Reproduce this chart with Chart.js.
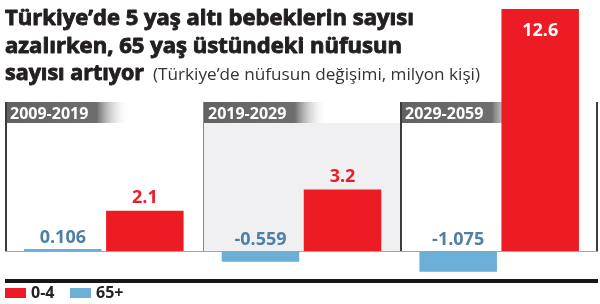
<!DOCTYPE html>
<html>
<head>
<meta charset="UTF-8">
<title>Türkiye nüfus değişimi</title>
<script src="https://cdn.jsdelivr.net/npm/chart.js"></script>
<style>
  body { margin: 0; background: #fff; }
</style>
</head>
<body>
<canvas id="chart" width="600" height="304"></canvas>
<script>
  // data (milyon kişi)
  const periods = ["2009-2019", "2019-2029", "2029-2059"];
  const seriesNames = ["65+", "0-4"];
  const elderly = [0.106, -0.559, -1.075];
  const babies = [2.1, 3.2, 12.6];

  const titleLines = ["Türkiye’de 5 yaş altı bebeklerin sayısı", "azalırken, 65 yaş üstündeki nüfusun", "sayısı artıyor"];
  const subtitle = "(Türkiye’de nüfusun değişimi, milyon kişi)";

  const RED = "#ed1c24", BLUE = "#6baed6", BLUE_TXT = "#4f7fa5";

  // draw text squeezed/stretched to a target width (optional stroke to make it heavier)
  function fitText(ctx, text, x, y, width, stroke) {
    const w = ctx.measureText(text).width;
    ctx.save();
    ctx.translate(x, y);
    ctx.scale(width / w, 1);
    ctx.fillText(text, 0, 0);
    if (stroke) {
      ctx.strokeStyle = ctx.fillStyle;
      ctx.lineWidth = stroke;
      ctx.lineJoin = "round";
      ctx.strokeText(text, 0, 0);
    }
    ctx.restore();
  }

  const decor = {
    id: "decor",
    beforeDatasetsDraw(chart) {
      const ctx = chart.ctx, xs = chart.scales.x, ys = chart.scales.y;
      const half = (xs.getPixelForValue(1) - xs.getPixelForValue(0)) / 2;
      const zeroY = Math.round(ys.getPixelForValue(0));
      const top = 102, headH = 21;
      ctx.save();
      // title
      ctx.fillStyle = "#231f20";
      ctx.textBaseline = "alphabetic";
      ctx.font = 'bold 21px "Open Sans"';
      fitText(ctx, titleLines[0], 5, 25, 409, 0.9);
      fitText(ctx, titleLines[1], 5, 53, 397, 0.9);
      fitText(ctx, titleLines[2], 5, 80, 139, 0.9);
      ctx.fillStyle = "#333";
      ctx.font = '16px "Open Sans"';
      fitText(ctx, subtitle, 153, 80, 327);

      periods.forEach((p, i) => {
        const left = Math.round(xs.getPixelForValue(i) - half);
        const right = Math.round(xs.getPixelForValue(i) + half);
        if (i === 1) {
          ctx.fillStyle = "#f0f0f2";
          ctx.fillRect(left, top + headH, right - left, zeroY - top - headH);
        }
        const g = ctx.createLinearGradient(left, 0, left + 124, 0);
        g.addColorStop(0, "#626262");
        g.addColorStop(0.74, "#6e6e6e");
        g.addColorStop(1, "rgba(255,255,255,0)");
        ctx.fillStyle = g;
        ctx.fillRect(left, top, 124, headH);
        ctx.fillStyle = "#fff";
        ctx.font = 'bold 16px "Open Sans"';
        ctx.fillText(p, left + 5, top + 17);
        // panel left border
        ctx.fillStyle = i === 1 ? "#8a8a8a" : "#3c3c3c";
        ctx.fillRect(left, top, i === 1 ? 1 : 2, zeroY - top);
      });
      ctx.fillStyle = "#3c3c3c";
      ctx.fillRect(chart.chartArea.right - 2, top, 2, zeroY - top);
      // zero line
      ctx.fillStyle = "#a5a5a5";
      ctx.fillRect(chart.chartArea.left, zeroY, chart.chartArea.right - chart.chartArea.left, 1);
      ctx.restore();
    },
    afterDatasetsDraw(chart) {
      const ctx = chart.ctx, ys = chart.scales.y;
      const zeroY = ys.getPixelForValue(0);
      ctx.save();
      ctx.textAlign = "center";
      ctx.textBaseline = "alphabetic";
      ctx.font = 'bold 18px "Open Sans"';
      chart.getDatasetMeta(0).data.forEach((bar, i) => {
        ctx.fillStyle = BLUE_TXT;
        ctx.fillText(String(elderly[i]), bar.x, Math.min(bar.y, zeroY) - 6);
      });
      chart.getDatasetMeta(1).data.forEach((bar, i) => {
        let y = bar.y - 8;
        if (y - 14 < chart.chartArea.top) {
          ctx.fillStyle = "#fff";
          y = bar.y + 27;
        } else {
          ctx.fillStyle = RED;
        }
        ctx.fillText(String(babies[i]), bar.x, y);
      });
      // bottom rule
      ctx.fillStyle = "#161616";
      ctx.fillRect(chart.chartArea.left, 279, chart.chartArea.right - chart.chartArea.left, 4);
      // legend: 0-4 first, then 65+
      const items = [[seriesNames[1], RED, 5], [seriesNames[0], BLUE, 70]];
      ctx.textAlign = "left";
      ctx.textBaseline = "middle";
      ctx.font = 'bold 16px "Open Sans"';
      items.forEach(([label, color, x]) => {
        ctx.fillStyle = color;
        ctx.fillRect(x, 288, 21, 10);
        ctx.fillStyle = "#222";
        ctx.fillText(label, x + 26, 293.5);
      });
      ctx.restore();
    }
  };

  new Chart(document.getElementById("chart"), {
    type: "bar",
    data: {
      labels: periods,
      datasets: [
        { label: seriesNames[0], data: elderly, backgroundColor: BLUE },
        { label: seriesNames[1], data: babies, backgroundColor: RED }
      ]
    },
    options: {
      responsive: false,
      animation: false,
      layout: { padding: { left: 5, right: 2, top: 8, bottom: 29 } },
      datasets: { bar: { categoryPercentage: 0.83, barPercentage: 0.945, borderWidth: 0 } },
      plugins: { legend: { display: false }, tooltip: { enabled: false } },
      scales: {
        x: { display: false },
        y: { display: false, min: -1.25, max: 12.65 }
      }
    },
    plugins: [decor]
  });
</script>
</body>
</html>
